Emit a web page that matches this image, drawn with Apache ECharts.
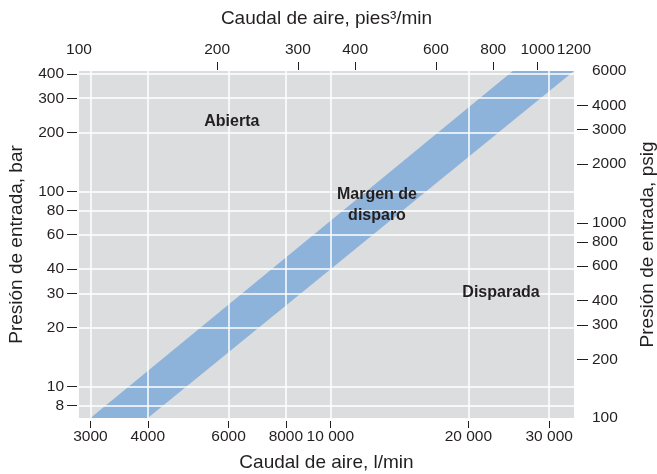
<!DOCTYPE html>
<html><head><meta charset="utf-8">
<script src="https://cdn.jsdelivr.net/npm/echarts@6/dist/echarts.min.js"></script>
<style>html,body{margin:0;padding:0;background:#fff}#c{width:657px;height:474px}</style>
</head><body><div id="c"></div>
<script>
// ---- data ----
const flowLminTicks = [3000, 4000, 6000, 8000, 10000, 20000, 30000];
const flowCfmLabels = [100, 200, 300, 400, 600, 800, 1000, 1200];
const flowCfmTicks = [200, 300, 400, 600, 800, 1000];
const pressureBarTicks = [8, 10, 20, 30, 40, 60, 80, 100, 200, 300, 400];
const pressurePsigLabels = [100, 200, 300, 400, 600, 800, 1000, 2000, 3000, 4000, 6000];
const pressurePsigTicks = [200, 300, 400, 600, 800, 1000, 2000, 3000, 4000];
const flowLminRange = [2832, 33980];
const flowCfmRange = [100, 1200];
const pressureBarRange = [6.895, 413.7];
const pressurePsigRange = [100, 6000];
// band ("Margen de disparo") edges: [l/min, bar]
const bandLeftEdge = [[3000, 6.895], [25000, 413.7]];
const bandRightEdge = [[4000, 6.895], [33980, 413.7]];
const regionLabels = ['Abierta', 'Margen de\ndisparo', 'Disparada'];
const regionFlow = [6100, 12640, 23560];
const regionPressure = [227, 84.6, 30.2];

const FONT = "'Liberation Sans', Arial, Helvetica, sans-serif";
const TXT = '#231f20';
const fmt = v => { const r = Math.round(v); return r >= 10000 ? String(r).replace(/\B(?=(\d{3})+(?!\d))/g, ' ') : String(r); };

const chart = echarts.init(document.getElementById('c'), null, {renderer: 'canvas'});
const tickStyle = {show: true, inside: false, lineStyle: {color: TXT, width: 1}};
const labelStyle = {color: TXT, fontSize: 15.5, fontFamily: FONT};
const nameStyle = {color: TXT, fontSize: 19, fontFamily: FONT};

chart.setOption({
  animation: false,
  grid: {left: 79, right: 83, top: 71, bottom: 56, show: true, backgroundColor: '#dcdddf', borderWidth: 0,
         containLabel: false, outerBoundsMode: 'none'},
  xAxis: [
    {type: 'log', logBase: 10, position: 'bottom', min: flowLminRange[0], max: flowLminRange[1], offset: 3, z: 3,
     name: 'Caudal de aire, l/min', nameLocation: 'middle', nameGap: 32, nameTextStyle: nameStyle,
     axisLine: {show: false},
     axisTick: Object.assign({length: 7, customValues: flowLminTicks}, tickStyle),
     axisLabel: Object.assign({margin: 8, customValues: flowLminTicks, formatter: fmt}, labelStyle),
     splitLine: {show: true, lineStyle: {color: '#ffffff', width: 1.5}}},
    {type: 'log', logBase: 10, position: 'top', min: flowCfmRange[0], max: flowCfmRange[1], offset: 1, z: 3,
     name: 'Caudal de aire, pies³/min', nameLocation: 'middle', nameGap: 42, nameTextStyle: nameStyle,
     axisLine: {show: false},
     axisTick: Object.assign({length: 8, customValues: flowCfmTicks}, tickStyle),
     axisLabel: Object.assign({margin: 12, customValues: flowCfmLabels, formatter: fmt, showMinLabel: true, showMaxLabel: true}, labelStyle),
     splitLine: {show: false}}
  ],
  yAxis: [
    {type: 'log', logBase: 10, position: 'left', min: pressureBarRange[0], max: pressureBarRange[1], offset: 2, z: 3,
     name: 'Presión de entrada, bar', nameLocation: 'middle', nameGap: 51, nameRotate: 90, nameTextStyle: nameStyle,
     axisLine: {show: false},
     axisTick: Object.assign({length: 10, customValues: pressureBarTicks}, tickStyle),
     axisLabel: Object.assign({margin: 13, customValues: pressureBarTicks, formatter: fmt}, labelStyle),
     splitLine: {show: true, lineStyle: {color: '#ffffff', width: 1.5}}},
    {type: 'log', logBase: 10, position: 'right', min: pressurePsigRange[0], max: pressurePsigRange[1], offset: 3, z: 3,
     name: 'Presión de entrada, psig', nameLocation: 'middle', nameGap: 61, nameRotate: 90, nameTextStyle: nameStyle,
     axisLine: {show: false},
     axisTick: Object.assign({length: 11, customValues: pressurePsigTicks}, tickStyle),
     axisLabel: Object.assign({margin: 15, customValues: pressurePsigLabels, formatter: fmt, showMinLabel: true, showMaxLabel: true}, labelStyle),
     splitLine: {show: false}}
  ],
  series: [
    {type: 'custom', xAxisIndex: 0, yAxisIndex: 0, clip: true, silent: true, z: 1,
     data: [[bandLeftEdge[0][0], bandLeftEdge[0][1]]],
     renderItem: (params, api) => {
       const pts = [bandLeftEdge[0], bandLeftEdge[1], bandRightEdge[1], bandRightEdge[0]].map(p => api.coord(p));
       return {type: 'polygon', shape: {points: pts}, style: {fill: '#8db3da'}};
     }},
    {type: 'scatter', xAxisIndex: 0, yAxisIndex: 0, symbolSize: 0, z: 5, silent: true,
     itemStyle: {opacity: 1},
     data: regionLabels.map((n, i) => ({name: n, value: [regionFlow[i], regionPressure[i]]})),
     label: {show: true, position: 'inside', formatter: p => p.name, fontWeight: 'bold', fontSize: 16,
             lineHeight: 21, color: TXT, opacity: 1, fontFamily: FONT, align: 'center'}}
  ]
});
</script></body></html>
